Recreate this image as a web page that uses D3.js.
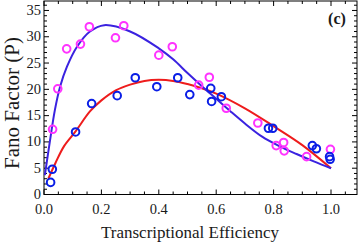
<!DOCTYPE html>
<html>
<head>
<meta charset="utf-8">
<script src="https://cdn.jsdelivr.net/npm/d3@7"></script>
<style>
  body { margin: 0; background: #fff; }
  text { font-family: "Liberation Serif", "DejaVu Serif", serif; fill: #1a1a1a; }
</style>
</head>
<body>
<div id="chart"></div>
<script>
// measured points, magenta set
var magX = [0.030, 0.048, 0.079, 0.127, 0.158, 0.249, 0.278, 0.400, 0.447, 0.539, 0.576, 0.635, 0.745, 0.809, 0.835, 0.837, 0.915, 0.998];
var magY = [12.4, 20.1, 27.7, 28.6, 31.9, 29.8, 32.1, 26.5, 28.1, 20.8, 22.3, 16.4, 13.6, 9.3, 9.9, 8.3, 7.2, 8.6];

// measured points, blue set
var bluX = [0.023, 0.029, 0.110, 0.166, 0.255, 0.318, 0.393, 0.466, 0.508, 0.581, 0.584, 0.618, 0.782, 0.797, 0.935, 0.949, 0.995, 0.997];
var bluY = [2.3, 4.8, 11.9, 17.3, 18.8, 22.2, 20.5, 22.2, 19.0, 20.2, 17.7, 18.6, 12.6, 12.6, 9.3, 8.7, 7.2, 6.7];

// fitted curves
var fitBlueX = [0.003, 0.021, 0.038, 0.056, 0.080, 0.115, 0.160, 0.210, 0.300, 0.400, 0.450, 0.500, 0.550, 0.600, 0.650, 0.700, 0.760, 0.820, 0.880, 0.940, 1.000];
var fitBlueY = [3.7, 10.3, 16.1, 20.5, 24.3, 28.1, 31.0, 32.2, 31.0, 27.8, 25.7, 23.1, 20.6, 18.2, 15.8, 13.5, 11.0, 9.2, 7.7, 6.3, 5.0];
var fitRedX = [0.015, 0.040, 0.070, 0.110, 0.160, 0.200, 0.250, 0.300, 0.350, 0.400, 0.450, 0.500, 0.550, 0.600, 0.700, 0.800, 0.900, 1.000];
var fitRedY = [3.0, 6.0, 9.2, 12.0, 15.8, 17.9, 19.8, 20.9, 21.6, 21.8, 21.6, 21.0, 20.2, 19.2, 16.4, 13.0, 9.4, 5.0];

var xTicks = [0, 0.2, 0.4, 0.6, 0.8, 1.0];
var yTicks = [0, 5, 10, 15, 20, 25, 30, 35];

var W = 360, H = 243;
var padL = 44, padR = 357, padT = 1, padB = 194.5;

var x = d3.scaleLinear().domain([0, 1.09]).range([padL, padL + 1.09 * 287]);
var y = d3.scaleLinear().domain([0, 36.8]).range([padB, padT]);

var svg = d3.select("#chart").append("svg")
  .attr("width", W)
  .attr("height", H);

// frame
svg.append("rect")
  .attr("x", padL).attr("y", padT)
  .attr("width", padR - padL).attr("height", padB - padT)
  .attr("fill", "none").attr("stroke", "#000").attr("stroke-width", 1);

// ticks, inward on all four sides
var xMinor = d3.range(0, 1.09, 0.05);
var yMinor = d3.range(0, 36.8, 1);
var tk = svg.append("g").attr("stroke", "#000").attr("stroke-width", 1);

xMinor.forEach(function(v) {
  var major = Math.abs(v * 5 - Math.round(v * 5)) < 1e-6;
  var len = major ? 5 : 3;
  tk.append("line").attr("x1", x(v)).attr("x2", x(v)).attr("y1", padB).attr("y2", padB - len);
  tk.append("line").attr("x1", x(v)).attr("x2", x(v)).attr("y1", padT).attr("y2", padT + len);
});
yMinor.forEach(function(v) {
  var len = v % 5 === 0 ? 5 : 3;
  tk.append("line").attr("y1", y(v)).attr("y2", y(v)).attr("x1", padL).attr("x2", padL + len);
  tk.append("line").attr("y1", y(v)).attr("y2", y(v)).attr("x1", padR).attr("x2", padR - len);
});

// tick labels
svg.append("g").selectAll("text")
  .data(xTicks).enter().append("text")
  .attr("x", function(d) { return x(d); })
  .attr("y", 214)
  .attr("text-anchor", "middle")
  .attr("font-size", 14.5)
  .text(function(d) { return d3.format(".1f")(d); });

svg.append("g").selectAll("text")
  .data(yTicks).enter().append("text")
  .attr("x", 41)
  .attr("y", function(d) { return y(d) + 4.5; })
  .attr("text-anchor", "end")
  .attr("font-size", 14.5)
  .text(function(d) { return d; });

// axis titles
svg.append("text")
  .attr("x", 190).attr("y", 238)
  .attr("text-anchor", "middle")
  .attr("font-size", 17)
  .text("Transcriptional Efficiency");

svg.append("text")
  .attr("transform", "translate(19,103) rotate(-90)")
  .attr("text-anchor", "middle")
  .attr("font-size", 21)
  .text("Fano Factor (P)");

svg.append("text")
  .attr("x", 337).attr("y", 24)
  .attr("text-anchor", "middle")
  .attr("font-size", 16)
  .attr("font-weight", "bold")
  .text("(c)");

// curves
var line = d3.line()
  .x(function(d) { return x(d[0]); })
  .y(function(d) { return y(d[1]); })
  .curve(d3.curveCatmullRom);

svg.append("path")
  .datum(d3.zip(fitRedX, fitRedY))
  .attr("d", line)
  .attr("fill", "none").attr("stroke", "#ee1c1c").attr("stroke-width", 2);

svg.append("path")
  .datum(d3.zip(fitBlueX, fitBlueY))
  .attr("d", line)
  .attr("fill", "none").attr("stroke", "#3a22e0").attr("stroke-width", 2);

// points
svg.append("g").selectAll("circle")
  .data(d3.zip(magX, magY)).enter().append("circle")
  .attr("cx", function(d) { return x(d[0]); })
  .attr("cy", function(d) { return y(d[1]); })
  .attr("r", 3.8)
  .attr("fill", "none").attr("stroke", "#ff33ff").attr("stroke-width", 2);

svg.append("g").selectAll("circle")
  .data(d3.zip(bluX, bluY)).enter().append("circle")
  .attr("cx", function(d) { return x(d[0]); })
  .attr("cy", function(d) { return y(d[1]); })
  .attr("r", 3.8)
  .attr("fill", "none").attr("stroke", "#0a1ee6").attr("stroke-width", 2);
</script>
</body>
</html>
